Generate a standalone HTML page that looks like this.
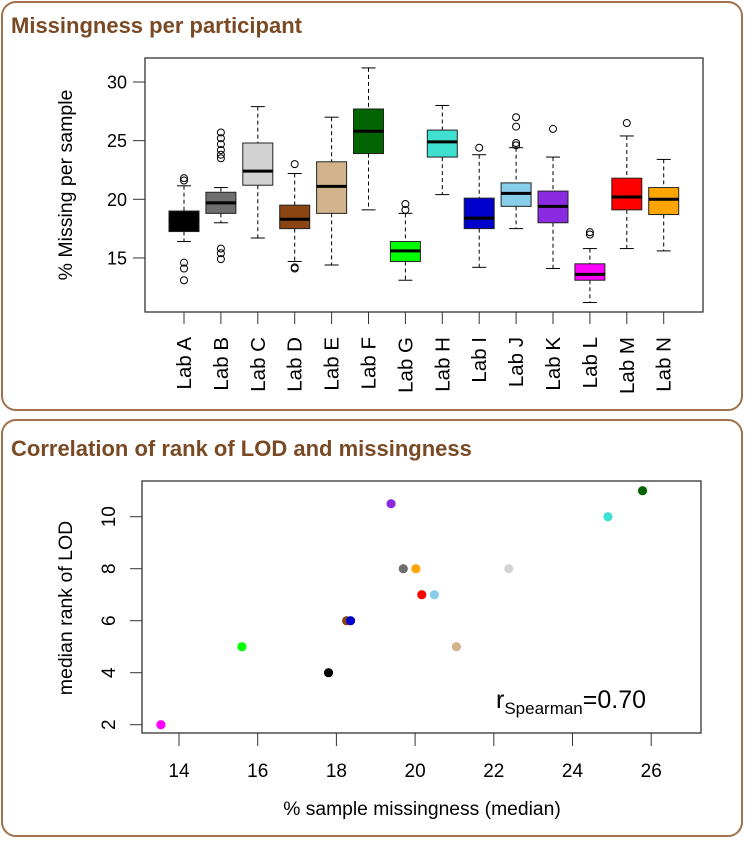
<!DOCTYPE html>
<html><head><meta charset="utf-8"><style>
body{margin:0;background:#fff;font-family:"Liberation Sans",Arial,sans-serif;}
svg text{font-family:"Liberation Sans",Arial,sans-serif;}
</style></head><body>
<svg id="s" width="745" height="839" xmlns="http://www.w3.org/2000/svg">
<rect x="2" y="2" width="740" height="408" rx="14" fill="#fff" stroke="#a0714a" stroke-width="2"/>
<rect x="2" y="420" width="740" height="416" rx="14" fill="#fff" stroke="#a0714a" stroke-width="2"/>
<text x="11" y="33" font-size="22" font-weight="bold" fill="#7a4a25">Missingness per participant</text>
<text x="11" y="456" font-size="22" font-weight="bold" fill="#7a4a25">Correlation of rank of LOD and missingness</text>
<rect x="145" y="58" width="558" height="254" fill="none" stroke="#333" stroke-width="1.3"/>
<text transform="translate(72,185) rotate(-90)" text-anchor="middle" font-size="19.5">% Missing per sample</text>
<g id="box"></g>
<rect x="142" y="481" width="559" height="252" fill="none" stroke="#333" stroke-width="1.3"/>
<text transform="translate(72,608) rotate(-90)" text-anchor="middle" font-size="19.5">median rank of LOD</text>
<text x="422" y="815" text-anchor="middle" font-size="19.3">% sample missingness (median)</text>
<text x="496" y="708" font-size="25">r<tspan font-size="17" dy="6">Spearman</tspan><tspan dy="-6">=0.70</tspan></text>
<g id="sc"></g>
</svg>
<script>
const labs=["Lab A","Lab B","Lab C","Lab D","Lab E","Lab F","Lab G","Lab H","Lab I","Lab J","Lab K","Lab L","Lab M","Lab N"];
const colors=["#000000","#6e6e6e","#d3d3d3","#8b4513","#d2b48c","#006400","#00ff00","#40e0d0","#0000cd","#87ceeb","#8a2be2","#ff00ff","#ff0000","#ffa500"];
const whiskLow=[16.4,18.0,16.7,14.7,14.4,19.1,13.1,20.4,14.2,17.5,14.1,11.2,15.8,15.6];
const q1=[17.25,18.8,21.2,17.5,18.8,23.9,14.7,23.6,17.5,19.4,18.0,13.1,19.1,18.7];
const med=[18.2,19.7,22.4,18.3,21.1,25.8,15.6,24.9,18.4,20.5,19.4,13.6,20.2,20.0];
const q3=[19.0,20.6,24.8,19.5,23.2,27.7,16.4,25.9,20.1,21.4,20.7,14.5,21.8,21.0];
const whiskHigh=[21.15,21.0,27.9,22.2,27.0,31.2,18.8,28.0,23.8,24.4,23.6,15.8,25.4,23.4];
const outliers=[[21.8,21.6,14.6,14.1,13.1],[25.7,25.2,24.7,24.2,23.8,23.5,15.8,15.4,14.9],[],[23.0,14.2,14.1],[],[],[19.6,19.1],[],[24.4],[27.0,26.2,24.8,24.6],[26.0],[17.2,17.0],[26.5],[]];
const yTicks=[15,20,25,30];
const scX=[17.8,19.7,22.38,18.26,21.05,25.78,15.6,24.9,18.36,20.49,19.39,13.54,20.17,20.02];
const scY=[4,8,8,6,5,11,5,10,6,7,10.5,2,7,8];
const sxTicks=[14,16,18,20,22,24,26];
const syTicks=[2,4,6,8,10];
const NS="http://www.w3.org/2000/svg";
function mk(p,t,a,txt){const e=document.createElementNS(NS,t);for(const k in a)e.setAttribute(k,a[k]);if(txt!==undefined)e.textContent=txt;p.appendChild(e);return e;}
const by=v=>82+(30-v)*11.73, bx=i=>184+i*36.9;
const G=document.getElementById('box');
yTicks.forEach(v=>{
 const l=mk(G,'line',{x1:133,x2:145,y1:by(v),y2:by(v),stroke:'#333'});
 
 
 const t=mk(G,'text',{x:127,y:by(v)+6.5,'text-anchor':'end','font-size':18},v);
 
 
});
labs.forEach((lab,i)=>{
 const x=bx(i);
 const g=mk(G,'g',{});
 
 
 mk(g,'line',{x1:x,x2:x,y1:by(whiskHigh[i]),y2:by(q3[i]),stroke:'#000','stroke-dasharray':'4,3'});
 mk(g,'line',{x1:x,x2:x,y1:by(q1[i]),y2:by(whiskLow[i]),stroke:'#000','stroke-dasharray':'4,3'});
 mk(g,'line',{x1:x-7,x2:x+7,y1:by(whiskHigh[i]),y2:by(whiskHigh[i]),stroke:'#000'});
 mk(g,'line',{x1:x-7,x2:x+7,y1:by(whiskLow[i]),y2:by(whiskLow[i]),stroke:'#000'});
 mk(g,'rect',{x:x-15,y:by(q3[i]),width:30,height:by(q1[i])-by(q3[i]),fill:colors[i],stroke:'#222','stroke-width':1});
 mk(g,'line',{x1:x-15,x2:x+15,y1:by(med[i]),y2:by(med[i]),stroke:'#000','stroke-width':3});
 outliers[i].forEach(o=>mk(g,'circle',{cx:x,cy:by(o),r:3.5,fill:'none',stroke:'#000'}));
 const tk=mk(G,'line',{x1:x,x2:x,y1:312,y2:324,stroke:'#333'});
 
 
 const t=mk(G,'text',{transform:`translate(${x+7},337) rotate(-90)`,'text-anchor':'end','font-size':20.5},lab);
 
 
});
const sx=v=>179+(v-14)*39.35, sy=v=>724.7-(v-2)*26;
const S=document.getElementById('sc');
sxTicks.forEach(v=>{
 const l=mk(S,'line',{x1:sx(v),x2:sx(v),y1:733,y2:746,stroke:'#333'});
 
 
 const t=mk(S,'text',{x:sx(v),y:777,'text-anchor':'middle','font-size':19},v);
 
 
});
syTicks.forEach(v=>{
 const l=mk(S,'line',{x1:130,x2:142,y1:sy(v),y2:sy(v),stroke:'#333'});
 
 
 const t=mk(S,'text',{transform:`translate(115,${sy(v)}) rotate(-90)`,'text-anchor':'middle','font-size':19},v);
 
 
});
scX.forEach((v,i)=>{
 const c=mk(S,'circle',{cx:sx(v),cy:sy(scY[i]),r:4.6,fill:colors[i]});
 
 
});
</script>
</body></html>
